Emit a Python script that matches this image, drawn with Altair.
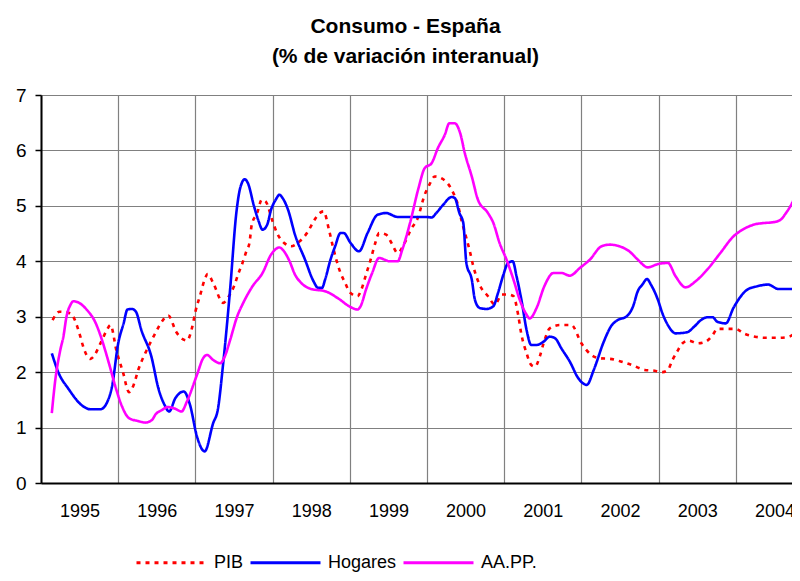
import altair as alt
import pandas as pd

# --- data (time in decimal years, value in %) ---
pib_t = [1995.15, 1995.24, 1995.38, 1995.51, 1995.54, 1995.64, 1995.68, 1995.77, 1995.85, 1995.90,
         1995.98, 1996.06, 1996.14, 1996.20, 1996.26, 1996.37, 1996.48, 1996.58, 1996.65, 1996.75,
         1996.89, 1996.96, 1997.00, 1997.06, 1997.12, 1997.16, 1997.23, 1997.36, 1997.42, 1997.50,
         1997.56, 1997.61, 1997.66, 1997.70, 1997.73, 1997.80, 1997.86, 1997.91, 1998.00, 1998.06,
         1998.15, 1998.24, 1998.35, 1998.46, 1998.53, 1998.61, 1998.66, 1998.73, 1998.78, 1998.88,
         1998.94, 1999.00, 1999.10, 1999.15, 1999.21, 1999.27, 1999.33, 1999.38, 1999.47, 1999.54,
         1999.62, 1999.71, 1999.79, 1999.88, 1999.97, 2000.03, 2000.10, 2000.21, 2000.32, 2000.40,
         2000.45, 2000.51, 2000.55, 2000.60, 2000.68, 2000.79, 2000.88, 2000.97, 2001.05, 2001.12,
         2001.18, 2001.22, 2001.29, 2001.35, 2001.40, 2001.46, 2001.51, 2001.59, 2001.72, 2001.87,
         2002.00, 2002.13, 2002.24, 2002.37, 2002.54, 2002.67, 2002.82, 2002.92, 2003.05, 2003.12,
         2003.18, 2003.24, 2003.31, 2003.39, 2003.50, 2003.61, 2003.70, 2003.76, 2003.87, 2004.00,
         2004.10, 2004.25, 2004.39, 2004.56, 2004.69, 2004.77, 2004.83]
pib_v = [2.94, 3.09, 3.06, 2.64, 2.49, 2.24, 2.28, 2.52, 2.75, 2.85,
         2.37, 2.01, 1.64, 1.77, 2.04, 2.40, 2.70, 2.94, 3.02, 2.73,
         2.57, 2.82, 3.09, 3.38, 3.67, 3.77, 3.61, 3.25, 3.34, 3.55,
         3.79, 3.97, 4.18, 4.33, 4.66, 4.87, 5.11, 5.08, 4.72, 4.50,
         4.33, 4.27, 4.36, 4.54, 4.72, 4.87, 4.90, 4.57, 4.27, 3.79,
         3.61, 3.44, 3.37, 3.49, 3.76, 4.03, 4.33, 4.51, 4.48, 4.33,
         4.15, 4.33, 4.57, 4.78, 5.20, 5.38, 5.53, 5.48, 5.29, 5.02,
         4.72, 4.42, 4.21, 3.91, 3.58, 3.37, 3.22, 3.40, 3.40, 3.37,
         3.04, 2.70, 2.34, 2.13, 2.10, 2.28, 2.52, 2.79, 2.85, 2.85,
         2.52, 2.31, 2.25, 2.24, 2.18, 2.12, 2.04, 2.03, 2.00, 2.04,
         2.22, 2.37, 2.52, 2.57, 2.52, 2.55, 2.67, 2.78, 2.78, 2.78,
         2.70, 2.64, 2.62, 2.62, 2.64, 2.70, 2.73]

hog_t = [1995.14, 1995.23, 1995.35, 1995.55, 1995.64, 1995.77, 1995.87, 1995.92, 1996.00, 1996.07,
         1996.12, 1996.18, 1996.23, 1996.30, 1996.43, 1996.52, 1996.60, 1996.66, 1996.74, 1996.85,
         1996.93, 1997.02, 1997.12, 1997.23, 1997.29, 1997.36, 1997.45, 1997.53, 1997.58, 1997.64,
         1997.68, 1997.76, 1997.82, 1997.87, 1997.93, 1997.98, 1998.04, 1998.09, 1998.13, 1998.20,
         1998.29, 1998.42, 1998.53, 1998.59, 1998.64, 1998.68, 1998.75, 1998.81, 1998.88, 1998.92,
         1999.01, 1999.12, 1999.23, 1999.36, 1999.47, 1999.62, 1999.99, 2000.06, 2000.12, 2000.21,
         2000.32, 2000.36, 2000.42, 2000.47, 2000.51, 2000.58, 2000.62, 2000.68, 2000.77, 2000.86,
         2000.92, 2000.99, 2001.05, 2001.11, 2001.16, 2001.23, 2001.29, 2001.35, 2001.42, 2001.51,
         2001.59, 2001.66, 2001.74, 2001.85, 2001.96, 2002.07, 2002.16, 2002.29, 2002.39, 2002.47,
         2002.58, 2002.67, 2002.73, 2002.79, 2002.85, 2002.90, 2002.99, 2003.05, 2003.12, 2003.22,
         2003.37, 2003.46, 2003.55, 2003.63, 2003.70, 2003.76, 2003.87, 2003.97, 2004.15, 2004.28,
         2004.42, 2004.55, 2004.72, 2004.83]
hog_v = [2.34, 1.98, 1.71, 1.38, 1.33, 1.33, 1.50, 1.74, 2.52, 2.88,
         3.13, 3.14, 3.09, 2.76, 2.28, 1.71, 1.41, 1.29, 1.53, 1.65,
         1.41, 0.84, 0.57, 1.08, 1.32, 2.16, 3.50, 4.87, 5.32, 5.48,
         5.41, 4.99, 4.72, 4.57, 4.66, 4.93, 5.11, 5.20, 5.14, 4.93,
         4.48, 4.03, 3.64, 3.52, 3.52, 3.67, 4.03, 4.27, 4.51, 4.51,
         4.33, 4.18, 4.51, 4.84, 4.87, 4.80, 4.80, 4.79, 4.87, 5.02,
         5.16, 5.14, 4.87, 4.69, 3.97, 3.67, 3.31, 3.16, 3.14, 3.19,
         3.43, 3.76, 3.97, 4.00, 3.73, 3.25, 2.76, 2.49, 2.49, 2.55,
         2.64, 2.61, 2.43, 2.19, 1.89, 1.77, 2.04, 2.55, 2.84, 2.94,
         3.00, 3.19, 3.46, 3.58, 3.68, 3.58, 3.31, 3.06, 2.85, 2.70,
         2.72, 2.82, 2.94, 2.99, 2.99, 2.91, 2.88, 3.16, 3.49, 3.55,
         3.58, 3.50, 3.50, 3.53]

aapp_t = [1995.14, 1995.18, 1995.25, 1995.29, 1995.33, 1995.38, 1995.42, 1995.48, 1995.59, 1995.70,
          1995.79, 1995.88, 1995.97, 1996.05, 1996.14, 1996.25, 1996.35, 1996.44, 1996.48, 1996.57,
          1996.64, 1996.72, 1996.82, 1996.89, 1997.02, 1997.10, 1997.15, 1997.23, 1997.32, 1997.38,
          1997.45, 1997.54, 1997.62, 1997.74, 1997.87, 1997.98, 1998.09, 1998.13, 1998.22, 1998.29,
          1998.37, 1998.50, 1998.68, 1998.86, 1998.99, 1999.10, 1999.14, 1999.21, 1999.29, 1999.38,
          1999.45, 1999.51, 1999.62, 1999.68, 1999.78, 1999.89, 1999.97, 2000.06, 2000.14, 2000.23,
          2000.29, 2000.36, 2000.43, 2000.49, 2000.58, 2000.66, 2000.79, 2000.86, 2000.94, 2001.03,
          2001.12, 2001.20, 2001.28, 2001.33, 2001.42, 2001.52, 2001.64, 2001.74, 2001.85, 2001.98,
          2002.11, 2002.26, 2002.37, 2002.47, 2002.62, 2002.73, 2002.86, 2002.99, 2003.12, 2003.22,
          2003.35, 2003.48, 2003.63, 2003.80, 2003.97, 2004.10, 2004.23, 2004.36, 2004.46, 2004.57,
          2004.65, 2004.74, 2004.83]
aapp_v = [1.26, 1.80, 2.40, 2.64, 3.00, 3.21, 3.28, 3.26, 3.13, 2.91,
          2.58, 2.16, 1.71, 1.38, 1.17, 1.12, 1.09, 1.14, 1.23, 1.32,
          1.37, 1.35, 1.29, 1.47, 1.95, 2.25, 2.31, 2.22, 2.16, 2.28,
          2.58, 3.00, 3.25, 3.55, 3.79, 4.12, 4.25, 4.21, 4.00, 3.76,
          3.61, 3.50, 3.46, 3.32, 3.19, 3.13, 3.19, 3.49, 3.79, 4.06,
          4.03, 4.00, 4.00, 4.21, 4.69, 5.32, 5.68, 5.77, 6.04, 6.28,
          6.49, 6.49, 6.31, 5.95, 5.53, 5.11, 4.87, 4.69, 4.33, 4.03,
          3.67, 3.31, 3.06, 2.97, 3.16, 3.55, 3.79, 3.79, 3.74, 3.88,
          4.03, 4.27, 4.30, 4.28, 4.18, 4.03, 3.89, 3.95, 3.97, 3.73,
          3.53, 3.64, 3.85, 4.15, 4.45, 4.58, 4.66, 4.69, 4.70, 4.74,
          4.87, 5.08, 5.38]

series_names = ["PIB", "Hogares", "AA.PP."]
series_colors = ["#FF0000", "#0000FF", "#FF00FF"]
year_ticks = list(range(1995, 2005))
y_ticks = list(range(0, 8))

rows = []
for name, ts, vs in zip(series_names, [pib_t, hog_t, aapp_t], [pib_v, hog_v, aapp_v]):
    for i, (t, v) in enumerate(zip(ts, vs)):
        rows.append({"serie": name, "t": t, "v": v, "orden": i})
df = pd.DataFrame(rows)

FONT = "Liberation Sans"

legend_kw = dict(title=None, orient="none", direction="horizontal",
                 legendX=94, legendY=431, symbolType="stroke",
                 symbolSize=4900, symbolStrokeWidth=3,
                 labelFontSize=18, labelFont=FONT, labelColor="#000000",
                 columnPadding=0, labelOffset=6)

PX_PER_YEAR = 77.2
PLOT_W = 751
x_end = 1995 + PLOT_W / PX_PER_YEAR

lines = alt.Chart(df).mark_line(strokeWidth=2.6, clip=True, interpolate="monotone").encode(
    x=alt.X("t:Q", scale=alt.Scale(domain=[1995, x_end], nice=False, zero=False),
            axis=alt.Axis(values=year_ticks, format="d", title=None, ticks=False,
                          labelOffset=38.6, labelFlush=False, labelOverlap=False, labelBound=False,
                          labelPadding=19, labelFontSize=18, labelFont=FONT, labelColor="#000000",
                          domainColor="#000000", domainWidth=2, grid=True,
                          gridColor="#808080", gridWidth=1.2, gridOpacity=1)),
    y=alt.Y("v:Q", scale=alt.Scale(domain=[0, 7], nice=False),
            axis=alt.Axis(values=y_ticks, title=None, tickSize=6, tickColor="#000000",
                          tickWidth=1.5, labelPadding=9, labelFontSize=19, labelFont=FONT,
                          labelColor="#000000", domainColor="#000000", domainWidth=2,
                          grid=True, gridColor="#808080", gridWidth=1.2, gridOpacity=1)),
    color=alt.Color("serie:N", scale=alt.Scale(domain=series_names, range=series_colors),
                    legend=alt.Legend(**legend_kw)),
    strokeDash=alt.StrokeDash("serie:N", scale=alt.Scale(domain=series_names,
                                                         range=[[4, 5], [1, 0], [1, 0]]),
                              legend=alt.Legend(**legend_kw)),
    order="orden:Q",
)

chart = lines.properties(
    width=PLOT_W,
    height=388,
    autosize=alt.AutoSizeParams(type="none"),
    padding={"left": 33, "top": 87, "right": 0, "bottom": 90},
    title=alt.TitleParams(["Consumo - España", "(% de variación interanual)"],
                          font=FONT, fontSize=21, fontWeight="bold", color="#000000",
                          lineHeight=30, offset=19, dx=-11, anchor="middle"),
).configure_view(
    fill="#FFFFCC", stroke="#808080", strokeWidth=1.5
).configure(background="#FFFFFF")

chart.save("out.html", embed_options={"renderer": "svg", "actions": False})
